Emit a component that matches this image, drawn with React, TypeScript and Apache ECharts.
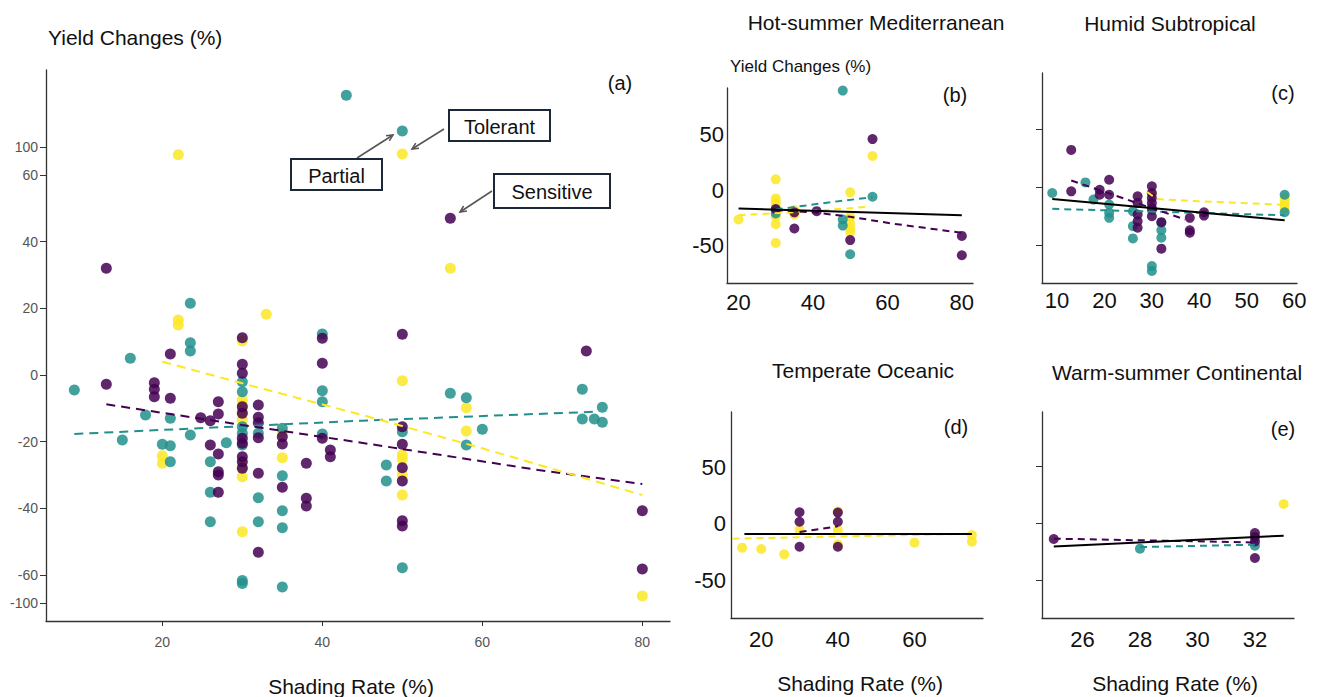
import React, { useEffect, useRef } from "react";
import * as echarts from "echarts";

const PURPLE = "#440154";
const TEAL = "#21908C";
const YELLOW = "#FDE725";
const FONT = "Liberation Sans, Arial, sans-serif";

// ---------- Panel (a): all climates ----------
const aSensitive = [
  [13, 32], [21, 6.3], [30, 11.2], [40, 11], [50, 12.2], [73, 7.2], [56, 47],
  [13, -2.8], [19, -2.3], [19, -4.3], [19, -6.5], [21, -7], [24.8, -12.8], [26, -13.7],
  [27, -8], [27, -11.7], [26, -21], [27, -23.7], [27, -29], [27, -30], [27, -35.2],
  [30, 3.2], [30, 0.5], [30, -9.5], [30, -11.5], [30, -19], [30, -20.5], [30, -24.5], [30, -26], [30, -28],
  [32, -9], [32, -12.7], [32, -14.3], [32, -18.8], [32, -29.5], [32, -53.2],
  [35, -18.5], [35, -20.7], [35, -33.7],
  [38, -26.5], [38, -37], [38, -39.3],
  [40, 3.5], [40, -19], [41, -22.5], [41, -24.5],
  [50, -15.5], [50, -20.8], [50, -27.8], [50, -31.8], [50, -43.7], [50, -45.3],
  [80, -40.7], [80, -58.2],
];
const aPartial = [
  [43, 174], [50, 123], [23.5, 21.5], [40, 12.3], [23.5, 9.7], [23.5, 7.2], [16, 5], [9, -4.5],
  [17.9, -12], [21, -13], [15, -19.5], [20, -20.8], [21, -21.2], [21, -26], [23.5, -18], [28, -20.3],
  [26, -26], [26, -35.2], [26, -44],
  [30, -2], [30, -5], [30, -15.5], [30, -17.5], [30, -21], [30, -68], [30, -72],
  [32, -17.5], [32, -36.8], [32, -44],
  [35, -16], [35, -30.2], [35, -40.7], [35, -45.8], [35, -77],
  [40, -4.7], [40, -8], [40, -17.7],
  [48, -27], [48, -31.8], [50, -17], [50, -57.8], [56, -5.5], [58, -6.8], [58, -21], [60, -16.3],
  [72.5, -4.3], [72.5, -13.2], [74, -13.2], [75, -9.7], [75, -14.2],
];
const aTolerant = [
  [22, 89], [50, 90], [22, 16.5], [22, 15], [33, 18.2], [30, 10.2], [56, 32], [20, -24.2], [20, -26.5],
  [30, -7.5], [30, -9], [30, -11], [30, -13.5], [30, -27.5], [30, -30.5], [30, -47],
  [35, -17.3], [35, -24.8],
  [50, -1.7], [50, -24], [50, -25.3], [50, -30], [50, -36], [58, -9.8], [58, -16.8], [80, -90],
];
const aTrendSensitive = [[13, -8.8], [30, -15], [44, -20], [67, -28.5], [80, -32.7]];
const aTrendPartial = [[9, -17.7], [45, -13.7], [74.3, -11]];
const aTrendTolerant = [[20, 4], [30, -2.5], [45, -12], [60, -22], [70, -29], [80, -36]];
const aYTicks = [-100, -60, -40, -20, 0, 20, 40, 60, 100];
const aXTicks = [20, 40, 60, 80];

// ---------- Panel (b): Hot-summer Mediterranean ----------
const bSensitive = [[30, -17], [35, -20], [35, -34.6], [41, -19], [50, -45], [56, 46], [80, -41.3], [80, -58.7]];
const bPartial = [[48, 89.7], [30, -18], [30, -21], [48, -26.5], [48, -32], [50, -57.8], [56, -6]];
const bTolerant = [
  [20, -26.5], [30, 9.7], [30, -7.5], [30, -10.5], [30, -13.5], [30, -24], [30, -30.7], [30, -47.6],
  [35, -18], [35, -22], [50, -2], [50, -24], [50, -30], [50, -34.6], [50, -37.7], [56, 30.7],
];
const bTrendAll = [[20, -16.5], [80, -22.6]];
const bTrendSensitive = [[30, -18], [40, -20], [50, -24], [61, -30], [70, -34], [80, -38.5]];
const bTrendPartial = [[30, -17.5], [40, -13], [48, -9.5], [56, -6.5]];
const bTrendTolerant = [[20, -22.6], [35, -20], [55, -15]];

// ---------- Panel (c): Humid Subtropical ----------
const cSensitive = [
  [13, 32.3], [13, -3.4], [19, -2], [19, -6.3], [21, 6.6], [21, -6.3], [27, -7.7], [27, -13.4],
  [27, -23.4], [27, -29.2], [27, -34.8], [30, 0.9], [30, -4.8], [30, -9.1], [30, -13.4], [30, -17.7],
  [30, -24.9], [32, -30], [32, -52.8], [38, -26.2], [38, -36.9], [38, -39.1], [41, -21.4], [41, -24.3],
];
const cPartial = [
  [9, -4.8], [16, 4.3], [17.7, -10.5], [21, -14.8], [21, -22], [21, -26.2], [26, -20.6], [26, -33.4],
  [26, -44], [30, -19.6], [30, -67.8], [30, -72], [32, -30.5], [32, -36.9], [32, -43.4], [58, -6.3], [58, -21.4],
];
const cTolerant = [[30, -5], [58, -9.1], [58, -12], [58, -15.4], [58, -17.7]];
const cTrendAll = [[9, -10], [58, -28.3]];
const cTrendSensitive = [[13, 6], [37, -27.7]];
const cTrendPartial = [[9, -18.5], [58, -24]];
const cTrendTolerant = [[29, -4], [31, -10], [40, -12], [58, -15]];

// ---------- Panel (d): Temperate Oceanic ----------
const dSensitive = [[30, 10.3], [30, 2], [30, -20], [40, 10], [40, 2], [40, -20]];
const dTolerant = [
  [15, -20.8], [20, -22], [26, -26.7], [30, -5.3], [40, 10.9], [40, -5.3], [40, -18], [60, -16.4], [75, -9.7], [75, -15.6],
];
const dTrendAll = [[15.6, -8.8], [75, -8.8]];
const dTrendSensitive = [[30, -7], [40, -2]];
const dTrendTolerant = [[12.5, -13], [75, -8.5]];

// ---------- Panel (e): Warm-summer Continental ----------
const eSensitive = [[25, -13.4], [32, -8.2], [32, -11.7], [32, -15.5], [32, -30.1]];
const ePartial = [[28, -21.9], [32, -19.3]];
const eTolerant = [[33, 17.3]];
const eTrendAll = [[25, -19.9], [33, -10.5]];
const eTrendSensitive = [[25, -13.1], [32, -16.4]];
const eTrendPartial = [[28, -20.5], [32, -18.4]];

const smallYTicks = [-50, 0, 50];

// broken-axis transform for panel (a)
const BREAK = 60;
const SQUEEZE = 0.21;
const squash = (v: number) =>
  Math.abs(v) <= BREAK ? v : Math.sign(v) * (BREAK + (Math.abs(v) - BREAK) * SQUEEZE);
const unsquash = (d: number) =>
  Math.abs(d) <= BREAK + 1e-9 ? d : Math.sign(d) * (BREAK + (Math.abs(d) - BREAK) / SQUEEZE);

const ident = (v: number) => v;

function scatter(data: number[][], color: string, g: number, size: number, tf = ident) {
  return {
    type: "scatter",
    xAxisIndex: g,
    yAxisIndex: g,
    data: data.map(([x, y]) => [x, tf(y)]),
    symbolSize: size,
    itemStyle: { color, opacity: 0.85 },
    z: 2,
    silent: true,
  };
}
function trend(data: number[][], color: string, g: number, dashed: boolean, dash: number[] = [7, 5], tf = ident) {
  return {
    type: "line",
    xAxisIndex: g,
    yAxisIndex: g,
    data: data.map(([x, y]) => [x, tf(y)]),
    showSymbol: false,
    symbol: "none",
    lineStyle: { color, width: 2, type: dashed ? dash : "solid" },
    z: 3,
    silent: true,
  };
}

function arrow(x1: number, y1: number, x2: number, y2: number) {
  const ang = Math.atan2(y2 - y1, x2 - x1);
  const L = 7;
  const a = 0.45;
  const p1 = [x2 - L * Math.cos(ang - a), y2 - L * Math.sin(ang - a)];
  const p2 = [x2 - L * Math.cos(ang + a), y2 - L * Math.sin(ang + a)];
  return [
    { type: "line", shape: { x1, y1, x2, y2 }, style: { stroke: "#555", lineWidth: 1.5 } },
    { type: "polyline", shape: { points: [p1, [x2, y2], p2] }, style: { stroke: "#555", lineWidth: 1.5, fill: null } },
  ];
}
function box(x: number, y: number, w: number, h: number, label: string) {
  return [
    { type: "rect", shape: { x, y, width: w, height: h }, style: { fill: "#fff", stroke: "#1b2838", lineWidth: 2 }, z: 10 },
    {
      type: "text",
      x: x + w / 2,
      y: y + h / 2 + 1,
      z: 11,
      style: { text: label, fill: "#111", font: `20px ${FONT}`, textAlign: "center", textVerticalAlign: "middle" },
    },
  ];
}
function txt(x: number, y: number, text: string, size: number, align = "center", color = "#111") {
  return {
    type: "text",
    x,
    y,
    style: { text, fill: color, font: `${size}px ${FONT}`, textAlign: align, textVerticalAlign: "middle" },
  };
}

const axisLineStyle = { show: true, onZero: false, lineStyle: { color: "#333", width: 1.3 } };

function xAxis(g: number, min: number, max: number, ticks: number[], o: any) {
  return {
    type: "value",
    gridIndex: g,
    min,
    max,
    splitLine: { show: false },
    axisLine: axisLineStyle,
    axisTick: { show: o.tick, length: 5, inside: false, customValues: ticks, lineStyle: { color: "#333" } },
    axisLabel: {
      show: true,
      customValues: ticks,
      margin: o.margin,
      color: o.color,
      fontSize: o.size,
      fontFamily: FONT,
    },
  };
}
function yAxis(g: number, min: number, max: number, ticks: number[], o: any) {
  return {
    type: "value",
    gridIndex: g,
    min,
    max,
    splitLine: { show: false },
    axisLine: axisLineStyle,
    axisTick: { show: o.tick, length: 6, customValues: ticks, lineStyle: { color: "#333" } },
    axisLabel: {
      show: o.label,
      customValues: ticks,
      margin: o.margin,
      color: o.color,
      fontSize: o.size,
      fontFamily: FONT,
      formatter: o.formatter,
    },
  };
}

export default function App() {
  const ref = useRef<HTMLDivElement>(null);
  useEffect(() => {
    document.body.style.margin = "0";
    const chart = echarts.init(ref.current!, null, { renderer: "svg" });
    const option: any = {
      animation: false,
      backgroundColor: "#ffffff",
      textStyle: { fontFamily: FONT },
      grid: [
        { left: 46, top: 70, width: 624, height: 551 },
        { left: 727, top: 88, width: 246, height: 195 },
        { left: 1042, top: 73, width: 255, height: 210 },
        { left: 731, top: 412, width: 252, height: 206 },
        { left: 1042, top: 412, width: 252, height: 206 },
      ],
      xAxis: [
        xAxis(0, 5.46, 83.46, aXTicks, { tick: true, margin: 14, color: "#555", size: 14 }),
        xAxis(1, 16.9, 83, [20, 40, 60, 80], { tick: false, margin: 8, color: "#111", size: 22 }),
        xAxis(2, 6.84, 60.6, [10, 20, 30, 40, 50, 60], { tick: false, margin: 6, color: "#111", size: 22 }),
        xAxis(3, 12.1, 77.9, [20, 40, 60], { tick: false, margin: 10, color: "#111", size: 22 }),
        xAxis(4, 24.59, 33.36, [26, 28, 30, 32], { tick: false, margin: 10, color: "#111", size: 22 }),
      ],
      yAxis: [
        yAxis(0, -73.8, 91.5, aYTicks.map(squash), {
          tick: true,
          label: true,
          margin: 8,
          color: "#555",
          size: 14,
          formatter: (v: number) => String(Math.round(unsquash(v))),
        }),
        yAxis(1, -83.7, 92, smallYTicks, { tick: false, label: true, margin: 3, color: "#111", size: 22 }),
        yAxis(2, -82.4, 98.6, smallYTicks, { tick: true, label: false, margin: 3, color: "#111", size: 22 }),
        yAxis(3, -82.7, 98.5, smallYTicks, { tick: false, label: true, margin: 5, color: "#111", size: 22 }),
        yAxis(4, -82.7, 98, smallYTicks, { tick: true, label: false, margin: 3, color: "#111", size: 22 }),
      ],
      series: [
        scatter(aTolerant, YELLOW, 0, 11, squash),
        scatter(aPartial, TEAL, 0, 11, squash),
        scatter(aSensitive, PURPLE, 0, 11, squash),
        trend(aTrendPartial, TEAL, 0, true, [9, 6], squash),
        trend(aTrendSensitive, PURPLE, 0, true, [9, 6], squash),
        trend(aTrendTolerant, YELLOW, 0, true, [9, 6], squash),

        scatter(bTolerant, YELLOW, 1, 10),
        scatter(bPartial, TEAL, 1, 10),
        scatter(bSensitive, PURPLE, 1, 10),
        trend(bTrendTolerant, YELLOW, 1, true),
        trend(bTrendPartial, TEAL, 1, true),
        trend(bTrendSensitive, PURPLE, 1, true),
        trend(bTrendAll, "#000", 1, false),

        scatter(cTolerant, YELLOW, 2, 10),
        scatter(cPartial, TEAL, 2, 10),
        scatter(cSensitive, PURPLE, 2, 10),
        trend(cTrendTolerant, YELLOW, 2, true),
        trend(cTrendPartial, TEAL, 2, true),
        trend(cTrendSensitive, PURPLE, 2, true),
        trend(cTrendAll, "#000", 2, false),

        scatter(dTolerant, YELLOW, 3, 10),
        scatter(dSensitive, PURPLE, 3, 10),
        trend(dTrendTolerant, YELLOW, 3, true),
        trend(dTrendSensitive, PURPLE, 3, true),
        trend(dTrendAll, "#000", 3, false),

        scatter(eTolerant, YELLOW, 4, 10),
        scatter(ePartial, TEAL, 4, 10),
        scatter(eSensitive, PURPLE, 4, 10),
        trend(eTrendPartial, TEAL, 4, true),
        trend(eTrendSensitive, PURPLE, 4, true),
        trend(eTrendAll, "#000", 4, false),
      ],
      graphic: [
        txt(48, 37, "Yield Changes (%)", 21, "left"),
        txt(351, 686, "Shading Rate (%)", 21),
        txt(620, 83, "(a)", 20),
        ...box(291, 159, 91, 31, "Partial"),
        ...box(449, 110, 101, 31, "Tolerant"),
        ...box(494, 174, 116, 34, "Sensitive"),
        ...arrow(357, 158, 393, 135),
        ...arrow(444, 129, 412, 149),
        ...arrow(492, 191, 460, 212),

        txt(876, 22, "Hot-summer Mediterranean", 21),
        txt(730, 66, "Yield Changes (%)", 17, "left"),
        txt(955, 95, "(b)", 20),
        txt(1170, 23, "Humid Subtropical", 21),
        txt(1283, 93, "(c)", 20),
        txt(863, 370, "Temperate Oceanic", 21),
        txt(956, 427, "(d)", 20),
        txt(1177, 372, "Warm-summer Continental", 21),
        txt(1283, 429, "(e)", 20),
        txt(860, 683, "Shading Rate (%)", 21),
        txt(1175, 683, "Shading Rate (%)", 21),
      ],
    };
    chart.setOption(option);
    return () => chart.dispose();
  }, []);
  return <div ref={ref} style={{ position: "absolute", left: 0, top: 0, width: 1317, height: 697 }} />;
}
